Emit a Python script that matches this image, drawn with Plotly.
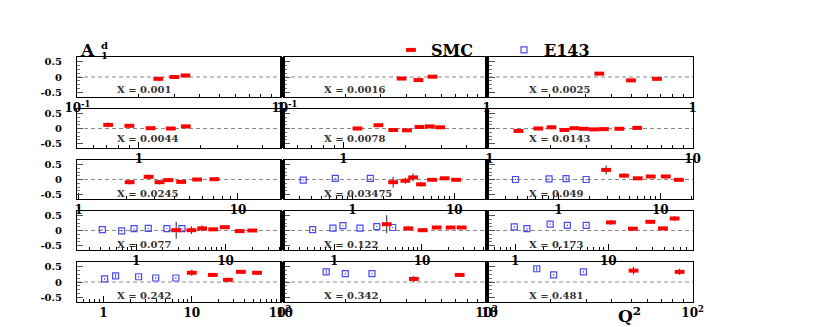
import math
import plotly.graph_objects as go

# x bins of the 15 panels (read row by row)
x_bins = ["0.001", "0.0016", "0.0025", "0.0044", "0.0078", "0.0143",
          "0.0245", "0.03475", "0.049", "0.077", "0.122", "0.173",
          "0.242", "0.342", "0.481"]

# SMC points per panel
smc_q2 = [
    [0.25, 0.30, 0.34],
    [0.38, 0.46, 0.54],
    [0.35, 0.50, 0.67],
    [0.71, 0.90, 1.14, 1.43, 1.69],
    [1.17, 1.48, 1.75, 2.04, 2.35, 2.64, 2.96],
    [1.39, 1.74, 2.02, 2.34, 2.62, 2.92, 3.27, 3.66, 4.36, 5.34],
    [2.09, 2.75, 3.22, 3.66, 4.40, 5.54, 7.11],
    [2.51, 3.31, 3.94, 4.71, 6.05, 8.03, 10.4],
    [2.94, 4.4, 6.0, 8.05, 11.3, 15.2],
    [2.81, 4.15, 5.47, 7.27, 9.82, 14.4, 19.9],
    [3.97, 6.99, 10.2, 14.7, 21.2, 28.3],
    [10.7, 18.4, 28.3, 38.7, 51.6],
    [10.0, 17.3, 25.6, 36.0, 54.8],
    [43.7, 73.6],
    [51.2, 86.3],
]
smc_a1 = [
    [-0.06, 0.0, 0.05],
    [-0.05, -0.10, 0.01],
    [0.11, -0.11, -0.06],
    [0.12, 0.09, 0.01, 0.0, 0.07],
    [0.0, 0.11, -0.05, -0.06, 0.05, 0.07, 0.04],
    [-0.08, 0.0, 0.04, -0.05, 0.01, -0.01, -0.03, -0.02, -0.01, 0.02],
    [-0.09, 0.09, -0.09, -0.02, -0.08, 0.0, 0.01],
    [-0.09, -0.04, 0.07, -0.16, -0.01, 0.04, -0.01],
    [0.32, 0.13, 0.04, 0.10, 0.10, -0.01],
    [0.01, 0.01, 0.07, 0.04, 0.11, -0.02, 0.0],
    [0.21, 0.07, 0.01, 0.10, 0.10, 0.10],
    [0.27, 0.06, 0.29, 0.07, 0.40],
    [0.30, 0.23, 0.07, 0.33, 0.30],
    [0.10, 0.23],
    [0.37, 0.33],
]
smc_err = [
    [0.03, 0.03, 0.06],
    [0.03, 0.03, 0.03],
    [0.03, 0.03, 0.03],
    [0.08, 0.03, 0.03, 0.03, 0.05],
    [0.06, 0.03, 0.03, 0.03, 0.03, 0.03, 0.05],
    [0.06, 0.06, 0.06, 0.04, 0.03, 0.03, 0.03, 0.03, 0.03, 0.04],
    [0.07, 0.07, 0.07, 0.06, 0.04, 0.03, 0.03],
    [0.18, 0.10, 0.13, 0.08, 0.04, 0.03, 0.03],
    [0.15, 0.08, 0.04, 0.03, 0.03, 0.03],
    [0.28, 0.13, 0.10, 0.04, 0.03, 0.03, 0.03],
    [0.30, 0.08, 0.06, 0.03, 0.03, 0.03],
    [0.08, 0.06, 0.06, 0.06, 0.08],
    [0.10, 0.07, 0.07, 0.05, 0.05],
    [0.10, 0.05],
    [0.12, 0.10],
]

# E143 points per panel
e143_q2 = [
    [], [], [], [], [], [], [],
    [0.33, 0.68, 1.50],
    [0.38, 0.81, 1.19, 1.87],
    [0.42, 0.69, 0.95, 1.37, 2.21, 3.26],
    [0.57, 0.97, 1.26, 1.97, 3.06, 4.64],
    [0.98, 1.34, 2.38, 3.64, 5.8],
    [1.03, 1.37, 2.5, 3.9, 6.6],
    [16.1, 20.0, 27.1],
    [17.1, 20.7, 29.0],
]
e143_a1 = [
    [], [], [], [], [], [], [],
    [-0.02, 0.04, 0.04],
    [0.0, 0.02, 0.03, 0.0],
    [0.03, -0.01, 0.06, 0.07, 0.06, 0.06],
    [0.03, 0.08, 0.16, 0.08, 0.13, 0.10],
    [0.12, 0.06, 0.21, 0.17, 0.17],
    [0.10, 0.20, 0.17, 0.13, 0.13],
    [0.33, 0.27, 0.27],
    [0.43, 0.23, 0.33],
]
e143_err = [
    [], [], [], [], [], [], [],
    [0.02, 0.02, 0.02],
    [0.02, 0.02, 0.06, 0.02],
    [0.02, 0.03, 0.02, 0.02, 0.02, 0.02],
    [0.02, 0.02, 0.02, 0.02, 0.02, 0.02],
    [0.03, 0.03, 0.03, 0.03, 0.03],
    [0.03, 0.07, 0.03, 0.03, 0.03],
    [0.07, 0.03, 0.03],
    [0.08, 0.03, 0.03],
]

# log10 Q^2 range of every panel
x_ranges = [
    (-1.002, 0.002), (-1.002, 0.002), (-0.995, 0.002),
    (-0.30, 0.69), (-0.29, 0.70), (-0.002, 1.002),
    (-0.01, 1.27), (-0.67, 1.32), (-0.68, 1.32),
    (-0.66, 1.62), (-0.57, 1.74), (-0.28, 1.91),
    (-0.30, 2.01), (0.998, 2.002), (0.998, 2.002),
]

W, H = 830, 327
col_px = [(77, 281), (284, 487), (489, 693)]
row_px = [(57, 97), (109, 148), (160, 199), (211, 250), (262, 302)]
xlab_y = [-0.40, -0.35, -0.45, -0.47, -0.45]

SERIF = "DejaVu Serif"
RED = "#ff0000"
BLUE = "#4a4af0"


def dec_label(d):
    if d == 0:
        return "1"
    if d == 1:
        return "10"
    return f"10<sup>{d}</sup>"


fig = go.Figure()
shapes, annotations = [], []

for i in range(15):
    r, c = divmod(i, 3)
    n = i + 1
    xa = "x" if n == 1 else f"x{n}"
    ya = "y" if n == 1 else f"y{n}"
    lo, hi = x_ranges[i]

    major_d = [d for d in range(math.floor(lo), math.ceil(hi) + 1) if lo <= d <= hi]
    minor_v = [m * 10 ** d for d in range(math.floor(lo), math.ceil(hi) + 1)
               for m in range(2, 10) if lo <= d + math.log10(m) <= hi]

    x0, x1 = col_px[c]
    y0, y1 = row_px[r]
    fig.layout[f"xaxis{n}"] = dict(
        domain=[x0 / W, x1 / W], anchor=ya, type="log", range=[lo, hi],
        tickmode="array", tickvals=[10 ** d for d in major_d],
        ticktext=[dec_label(d) for d in major_d],
        ticks="inside", ticklen=6, tickcolor="black",
        minor=dict(tickmode="array", tickvals=minor_v, ticks="inside",
                   ticklen=3, tickcolor="black"),
        showline=True, mirror=True, linecolor="black", linewidth=1,
        showgrid=False, zeroline=False, ticklabelstandoff=0, automargin=False,
        tickfont=dict(family=SERIF, size=12, color="black", weight="bold"),
    )
    fig.layout[f"yaxis{n}"] = dict(
        domain=[1 - y1 / H, 1 - y0 / H], anchor=xa, range=[-0.65, 0.65],
        tickmode="array", tickvals=[-0.5, 0, 0.5], ticktext=["-0.5", "0", "0.5"],
        showticklabels=(c == 0), ticks="inside", ticklen=6, tickcolor="#555",
        minor=dict(tickmode="array",
                   tickvals=[-0.625, -0.375, -0.25, -0.125, 0.125, 0.25, 0.375, 0.625],
                   ticks="inside", ticklen=3, tickcolor="#777"),
        showline=True, mirror=True, linecolor="black", linewidth=1,
        showgrid=False, zeroline=False, ticklabelstandoff=12, automargin=False,
        tickfont=dict(family=SERIF, size=10, color="black", weight="bold"),
    )

    # dashed zero line
    shapes.append(dict(type="line", xref=f"{xa} domain", yref=ya, x0=0, x1=1,
                       y0=0, y1=0, line=dict(color="#888888", width=1, dash="4px,3px"),
                       layer="below"))
    annotations.append(dict(text=f"X = {x_bins[i]}", xref=f"{xa} domain", yref=ya,
                            x=0.185, y=xlab_y[r], xanchor="left", yanchor="middle",
                            showarrow=False,
                            font=dict(family=SERIF, size=10, color="#333333", weight="bold")))

    if e143_q2[i]:
        fig.add_trace(go.Scatter(
            x=e143_q2[i], y=e143_a1[i], mode="markers", name="E143",
            legendgroup="e143", legendrank=2, showlegend=(i == 7),
            xaxis=xa, yaxis=ya,
            marker=dict(symbol="square-open", size=6, color=BLUE, line=dict(width=1.2, color=BLUE)),
            error_y=dict(type="data", array=e143_err[i], width=0, thickness=1, color=BLUE),
        ))
    fig.add_trace(go.Scatter(
        x=smc_q2[i], y=smc_a1[i], mode="markers", name="SMC",
        legendgroup="smc", legendrank=1, showlegend=(i == 0),
        xaxis=xa, yaxis=ya,
        marker=dict(symbol="line-ew", size=7, color=RED, line=dict(width=4, color=RED)),
        error_y=dict(type="data", array=smc_err[i], width=0, thickness=1, color="#222222"),
    ))

# thick double frame between neighbouring panels
for (y0, y1) in row_px:
    for (a, b) in [(280, 285), (485, 489)]:
        shapes.append(dict(type="rect", xref="paper", yref="paper",
                           x0=a / W, x1=b / W, y0=1 - y1 / H, y1=1 - y0 / H,
                           fillcolor="black", line=dict(width=0)))

# A_1^d and Q^2 titles
annotations += [
    dict(text="A", xref="paper", yref="paper", x=78 / W, y=1 - 50 / H,
         xanchor="left", yanchor="middle", showarrow=False,
         font=dict(family=SERIF, size=17, color="black", weight="bold")),
    dict(text="d", xref="paper", yref="paper", x=99 / W, y=1 - 45 / H,
         xanchor="left", yanchor="middle", showarrow=False,
         font=dict(family=SERIF, size=10, color="black", weight="bold")),
    dict(text="1", xref="paper", yref="paper", x=99 / W, y=1 - 55 / H,
         xanchor="left", yanchor="middle", showarrow=False,
         font=dict(family=SERIF, size=10, color="black", weight="bold")),
    dict(text="Q<sup>2</sup>", xref="paper", yref="paper", x=616 / W, y=1 - 315 / H,
         xanchor="left", yanchor="middle", showarrow=False,
         font=dict(family=SERIF, size=17, color="black", weight="bold")),
]

fig.update_layout(
    width=W, height=H, autosize=False,
    margin=dict(l=0, r=0, t=0, b=0),
    paper_bgcolor="white", plot_bgcolor="white",
    shapes=shapes, annotations=annotations,
    showlegend=True,
    legend=dict(orientation="h", x=391 / W, y=1 - 50 / H, xanchor="left", yanchor="middle",
                bgcolor="rgba(0,0,0,0)", borderwidth=0, entrywidth=68,
                font=dict(family=SERIF, size=16, color="black", weight="bold")),
)

# drop the browser's default body margin so the figure sits at the page corner
fig.write_html("out.html", config={"displayModeBar": False},
               post_script="document.body.style.margin='0px';")
